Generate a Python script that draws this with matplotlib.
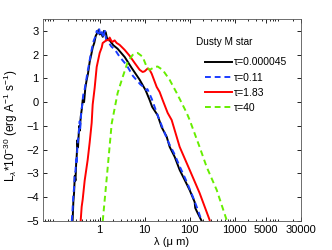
import matplotlib
matplotlib.use('Agg')
import matplotlib.pyplot as plt
from matplotlib.ticker import FixedLocator, LogLocator, NullFormatter
from matplotlib.transforms import ScaledTranslation

# tau = 0.000045
wl_a = [0.25, 0.26, 0.27, 0.28, 0.29, 0.30, 0.31, 0.32, 0.33, 0.35,
        0.36, 0.38, 0.40, 0.42, 0.45, 0.48, 0.51, 0.55, 0.60, 0.65,
        0.70, 0.76, 0.82, 0.88, 0.95, 1.0, 1.08, 1.17, 1.25, 1.36,
        1.45, 1.67, 2.0, 2.5, 3.6, 5.1, 7.7, 10.5, 12.9, 14.7, 19.4,
        23.8, 30.8, 35.9, 46.4, 59.9, 77.4, 100, 129, 133, 150, 185]
lum_a = [-5.0, -4.2, -3.8, -3.1, -3.3, -2.6, -2.2, -1.6, -1.9, -1.0,
         -1.2, -0.6, -0.3, 0.1, 0.0, 0.6, 0.9, 1.2, 1.7, 2.0,
         2.3, 2.5, 2.8, 2.9, 3.05, 2.85, 2.9, 2.75, 3.0, 2.95,
         2.7, 2.6, 2.4, 2.25, 1.9, 1.45, 0.95, 0.5, 0.09, -0.2, -0.55,
         -1.05, -1.45, -1.88, -2.3, -2.85, -3.27, -3.7, -4.2, -4.45, -4.66, -5.0]

# tau = 0.11
wl_b = [0.24, 0.25, 0.26, 0.27, 0.28, 0.29, 0.30, 0.31, 0.32, 0.34,
        0.36, 0.37, 0.39, 0.41, 0.43, 0.46, 0.50, 0.54, 0.58, 0.63,
        0.68, 0.74, 0.80, 0.86, 0.92, 0.97, 1.04, 1.12, 1.20, 1.30,
        1.40, 1.55, 1.8, 2.2, 2.8, 4.0, 5.5, 8.0, 10.0, 11.0,
        11.5, 14.3, 19.4, 27.8, 35, 45, 60, 86, 116, 150, 185]
lum_b = [-5.0, -4.5, -3.9, -3.6, -3.0, -2.9, -2.4, -2.6, -1.8, -1.4,
         -0.8, -1.1, -0.4, -0.1, 0.3, 0.5, 0.9, 1.3, 1.6, 2.0,
         2.3, 2.6, 2.75, 3.0, 2.9, 3.1, 2.8, 2.95, 2.7, 3.0,
         2.6, 2.55, 2.35, 2.2, 1.9, 1.55, 1.1, 0.75, 0.6, 0.5,
         0.55, 0.15, -0.55, -1.3, -1.75, -2.15, -2.7, -3.35, -3.95, -4.5, -5.0]

# tau = 1.83
wl_c = [0.378, 0.398, 0.419, 0.464, 0.541, 0.599, 0.664, 0.699, 0.774, 0.858,
        1.0, 1.11, 1.166, 1.29, 1.43, 1.58, 1.668, 1.85, 1.945, 2.15,
        2.387, 2.783, 3.594, 4.64, 5.99, 7.74, 9.03, 10.0, 11.7, 12.9,
        14.3, 18.5, 21.5, 25.1, 32.4, 39.8, 59.9, 100, 166, 278]
lum_c = [-5.0, -4.4, -4.1, -3.3, -2.43, -1.7, -0.87, -0.1, 0.6, 1.48,
         2.07, 2.3, 2.49, 2.55, 2.62, 2.6, 2.72, 2.55, 2.54, 2.6,
         2.49, 2.41, 2.2, 1.95, 1.65, 1.36, 1.27, 1.3, 1.42, 1.36,
         1.2, 0.64, 0.43, 0.09, -0.45, -0.75, -1.88, -2.85, -3.82, -4.96]

# tau = 40
wl_d = [1.17, 1.45, 1.85, 2.51, 3.25, 4.19, 5.41, 6.99, 9.03, 11.1,
        12.9, 16.7, 19.4, 25.1, 35.9, 51.4, 85.8, 100, 166, 239, 398, 664]
lum_d = [-5.0, -3.1, -0.9, 0.39, 1.06, 1.69, 1.99, 2.07, 1.91, 1.48,
         1.36, 1.48, 1.5, 1.36, 0.94, 0.39, -0.45, -0.75, -1.88, -2.73, -3.69, -4.96]

labels = ['τ=0.000045', 'τ=0.11', 'τ=1.83', 'τ=40']
xticks = [1, 10, 100, 1000, 5000, 30000]
xticklabels = ['1', '10', '100', '1000', '5000', '30000']
yticks = [-5, -4, -3, -2, -1, 0, 1, 2, 3]

plt.rcParams['font.family'] = ['Liberation Sans', 'DejaVu Sans']
plt.rcParams['mathtext.fontset'] = 'custom'
plt.rcParams['mathtext.rm'] = 'Liberation Sans'
plt.rcParams['mathtext.it'] = 'Liberation Sans:italic'
plt.rcParams['font.size'] = 8
fig = plt.figure(figsize=(3.32, 2.5), dpi=100)
ax = fig.add_axes([0.1295, 0.116, 0.7775, 0.808])

ax.plot(wl_a, lum_a, color='black', lw=1.4, label=labels[0])
ax.plot(wl_b, lum_b, color='#1a3cff', lw=1.4, ls=(0, (3, 2)), label=labels[1])
ax.plot(wl_c, lum_c, color='#ff0000', lw=1.4, label=labels[2])
ax.plot(wl_d, lum_d, color='#66ee00', lw=1.4, ls=(0, (3, 2)), label=labels[3])

ax.set_xscale('log')
ax.set_xlim(0.055, 30000)
ax.set_ylim(-5, 3.5)
ax.xaxis.set_major_locator(FixedLocator(xticks))
ax.set_xticklabels(xticklabels)
# labels sit a little off their ticks in the original
for lab, dx in zip(ax.get_xticklabels(), [0, 0, 4, 6, -3, -8]):
    lab.set_transform(lab.get_transform() + ScaledTranslation(dx / 100, 0, fig.dpi_scale_trans))
ax.xaxis.set_minor_locator(LogLocator(base=10, subs=range(2, 10)))
ax.xaxis.set_minor_formatter(NullFormatter())
ax.set_yticks(yticks)
ax.tick_params(which='both', direction='in', top=True, right=True, width=0.6)
ax.tick_params(which='major', length=3, pad=3)
ax.tick_params(which='minor', length=1.5)
for s in ax.spines.values():
    s.set_linewidth(0.6)
    s.set_color('#555555')

ax.set_xlabel('λ (μ m)', labelpad=1, fontsize=8)
ax.set_ylabel(r'L$_\lambda$*10$^{-30}$ (erg A$^{-1}$ s$^{-1}$)', fontsize=8.5)
ax.yaxis.set_label_coords(-0.09, 0.47)

ax.text(0.593, 0.886, 'Dusty M star', transform=ax.transAxes, fontsize=7.2,
        ha='left', va='center')
ax.legend(frameon=False, loc='upper left', bbox_to_anchor=(0.628, 0.81),
          handlelength=2.6, handletextpad=0.2, labelspacing=0.5,
          fontsize=7.5, borderaxespad=0, borderpad=0)

fig.savefig('out.png', dpi=100)
